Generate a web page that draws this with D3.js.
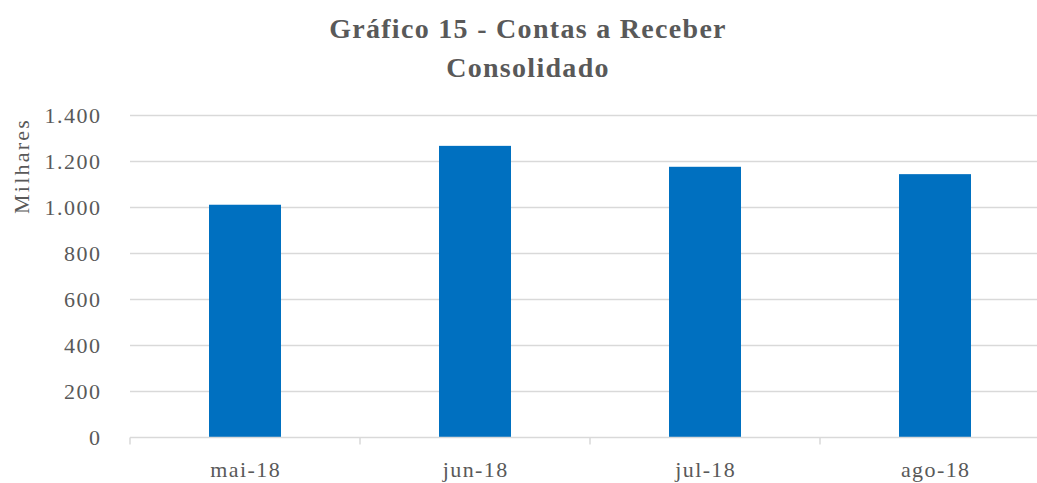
<!DOCTYPE html>
<html>
<head>
<meta charset="utf-8">
<script src="https://cdn.jsdelivr.net/npm/d3@7"></script>
<style>
  body { margin: 0; background: #fff; }
  svg { display: block; font-family: "Liberation Serif", "DejaVu Serif", serif; }
</style>
</head>
<body>
<div id="chart"></div>
<script>
const months = ["mai-18", "jun-18", "jul-18", "ago-18"]
const receivables = [1012, 1268, 1177, 1145]
const yTicks = [0, 200, 400, 600, 800, 1000, 1200, 1400]

const width = 1037
const height = 483
const textColor = "#595959"
const gridColor = "#d9d9d9"

// plot area runs past the right edge in the original, so it is clipped
const x = d3.scaleBand()
  .domain(months)
  .range([130, 1050])
  .paddingInner(0.687)
  .paddingOuter(0.3435)

const y = d3.scaleLinear()
  .domain([0, 1400])
  .range([437.5, 115.5])

const fmt = d3.formatLocale({ decimal: ",", thousands: ".", grouping: [3], currency: ["R$", ""] }).format(",d")

const svg = d3.select("#chart").append("svg")
  .attr("width", width)
  .attr("height", height)

// gridlines
svg.append("g")
  .selectAll("line")
  .data(yTicks.filter(d => d > 0))
  .enter().append("line")
    .attr("x1", 130)
    .attr("x2", width)
    .attr("y1", d => y(d))
    .attr("y2", d => y(d))
    .attr("stroke", gridColor)
    .attr("stroke-width", 1.5)

// y tick labels
svg.append("g")
  .selectAll("text")
  .data(yTicks)
  .enter().append("text")
    .attr("x", 101.5)
    .attr("y", d => y(d))
    .attr("dy", "0.35em")
    .attr("text-anchor", "end")
    .attr("font-size", 22)
    .attr("letter-spacing", 1.5)
    .attr("fill", textColor)
    .text(d => fmt(d))

// bars
svg.append("g")
  .selectAll("rect")
  .data(receivables)
  .enter().append("rect")
    .attr("x", (d, i) => x(months[i]))
    .attr("width", x.bandwidth())
    .attr("y", d => y(d))
    .attr("height", d => y(0) - y(d))
    .attr("fill", "#0070c0")

// x axis with category boundary ticks
const xAxis = svg.append("g")
xAxis.append("line")
  .attr("x1", 130)
  .attr("x2", width)
  .attr("y1", y(0))
  .attr("y2", y(0))
  .attr("stroke", gridColor)
  .attr("stroke-width", 1.5)

const step = x.step()
xAxis.selectAll("line.tick")
  .data(d3.range(months.length + 1))
  .enter().append("line")
    .attr("class", "tick")
    .attr("x1", i => 130 + i * step)
    .attr("x2", i => 130 + i * step)
    .attr("y1", y(0))
    .attr("y2", y(0) + 7)
    .attr("stroke", gridColor)
    .attr("stroke-width", 1.5)

xAxis.selectAll("text")
  .data(months)
  .enter().append("text")
    .attr("x", d => x(d) + x.bandwidth() / 2 + 0.7)
    .attr("y", 477)
    .attr("text-anchor", "middle")
    .attr("font-size", 22)
    .attr("letter-spacing", 1.4)
    .attr("fill", textColor)
    .text(d => d)

// axis title
svg.append("text")
  .attr("transform", "translate(29,166) rotate(-90)")
  .attr("text-anchor", "middle")
  .attr("font-size", 22)
  .attr("letter-spacing", 2.2)
  .attr("fill", textColor)
  .text("Milhares")

// chart title
const title = svg.append("text")
  .attr("text-anchor", "middle")
  .attr("font-size", 28)
  .attr("font-weight", "bold")
  .attr("letter-spacing", 1.3)
  .attr("fill", textColor)
title.append("tspan").attr("x", 528).attr("y", 38).text("Gráfico 15 - Contas a Receber")
title.append("tspan").attr("x", 528).attr("y", 77).text("Consolidado")
</script>
</body>
</html>
